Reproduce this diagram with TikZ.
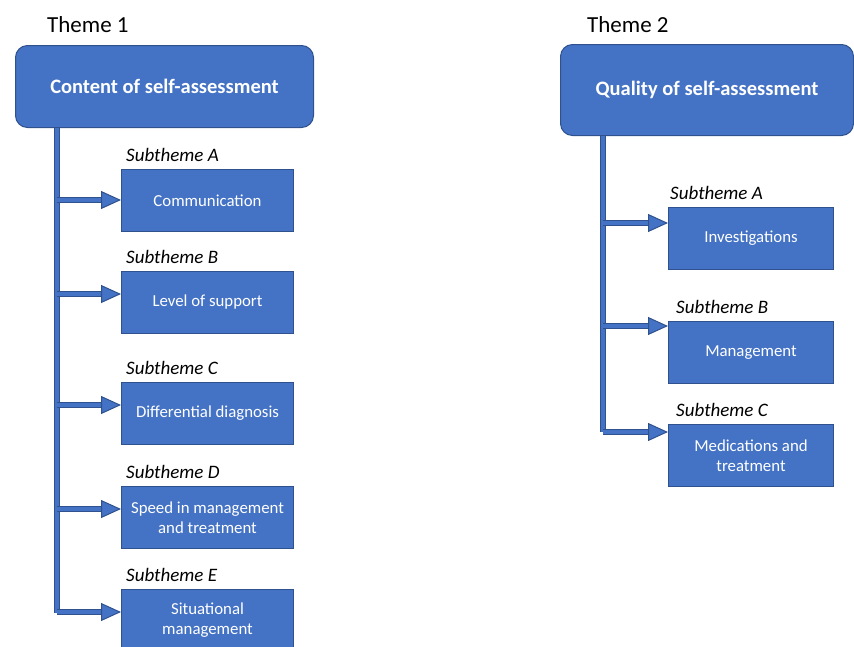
\documentclass[tikz,border=0pt]{standalone}
\usepackage{fontspec}
\setmainfont{Carlito}
\usetikzlibrary{arrows.meta}

\definecolor{themeblue}{HTML}{4472C4}
\definecolor{themeedge}{HTML}{2F528F}

\tikzset{
  themebox/.style={draw=themeedge, line width=1pt, fill=themeblue, rounded corners=12pt,
    text=white, font=\fontsize{20.5}{24}\selectfont\bfseries, anchor=north west, inner sep=0pt},
  subbox/.style={draw=themeedge, line width=1pt, fill=themeblue, text=white, align=center,
    minimum width=172pt, minimum height=62pt, anchor=north west, inner sep=2pt,
    font=\fontsize{16.8}{20}\selectfont},
  sublabel/.style={anchor=base west, inner sep=0pt, font=\fontsize{19}{22}\selectfont\itshape},
  themelabel/.style={anchor=base west, inner sep=0pt, font=\fontsize{23}{27}\selectfont},
  stem/.style={draw=themeblue, line width=4.5pt, preaction={draw=themeedge, line width=6.5pt}},
  branch/.style={draw=themeblue, line width=4.5pt,
    preaction={draw=themeedge, line width=6.5pt, shorten >=18pt, arrows=-},
    -{Triangle[length=20pt, width=18pt, color=themeedge, fill=themeblue, line width=1pt]}}
}

\begin{document}
\begin{tikzpicture}[x=1pt, y=-1pt]
\clip (0,0) rectangle (854,646);

% Theme 1
\node[themelabel] (lab1) at (47,32) {Theme 1};
\node[themebox, minimum width=298pt, minimum height=82pt] (theme1) at (15,45) {Content of self-assessment};
\coordinate (end1) at (57,613);
\draw[stem] (theme1.south -| end1) -- (end1);

\foreach \n/\top/\ay/\txt in {A/169/200/{Communication}, B/271/294/{Level of support},
    C/382/405/{Differential diagnosis}, D/486/509/{Speed in management\\and treatment},
    E/589/612/{Situational\\management}} {
  \coordinate (bone\n) at (57,\ay);
  \node[subbox] (one\n) at (121,\top) {\txt};
  \draw[branch] (bone\n) -- (one\n.west |- bone\n);
  \node[sublabel] (lone\n) at ([shift={(5,-8)}]one\n.north west) {Subtheme \n};
}

% Theme 2
\node[themelabel] (lab2) at (587,32) {Theme 2};
\node[themebox, minimum width=293pt, minimum height=91pt] (theme2) at (560,44) {Quality of self-assessment};
\coordinate (end2) at (603,432);
\draw[stem] (theme2.south -| end2) -- (end2);

\foreach \n/\top/\ay/\lx/\txt in {A/207/223/670/{Investigations}, B/321/326/676/{Management},
    C/424/432/676/{Medications and\\treatment}} {
  \coordinate (btwo\n) at (603,\ay);
  \node[subbox, minimum width=165pt] (two\n) at (668,\top) {\txt};
  \draw[branch] (btwo\n) -- (two\n.west |- btwo\n);
  \node[sublabel] (ltwo\n) at (\lx,\top-8) {Subtheme \n};
}
\end{tikzpicture}
\end{document}
